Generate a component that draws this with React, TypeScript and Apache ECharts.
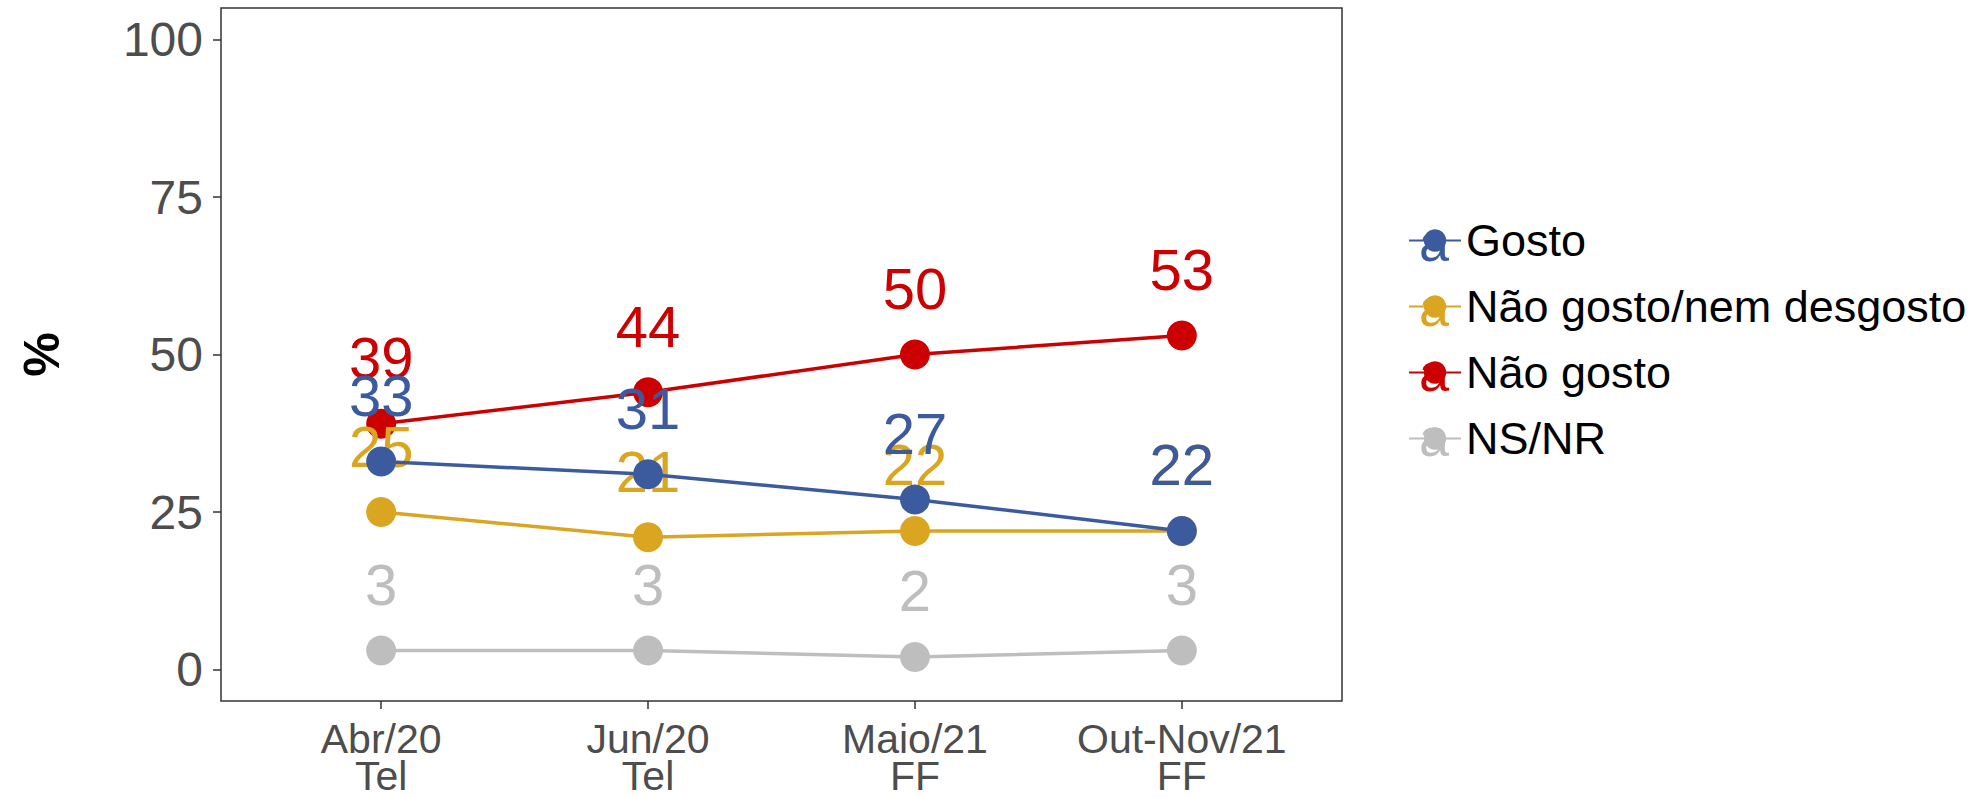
import React, { useEffect, useRef } from "react";
import * as echarts from "echarts";

const categories = ["Abr/20\nTel", "Jun/20\nTel", "Maio/21\nFF", "Out-Nov/21\nFF"];
const seriesNames = ["Gosto", "Não gosto/nem desgosto", "Não gosto", "NS/NR"];
const gosto = [33, 31, 27, 22];
const neutro = [25, 21, 22, 22];
const naoGosto = [39, 44, 50, 53];
const nsnr = [3, 3, 2, 3];
const yTicks = [0, 25, 50, 75, 100];
const colors = ["#3B5B9E", "#DAA520", "#CC0000", "#BEBEBE"];

const FONT = "'Liberation Sans', Arial, sans-serif";

export default function App() {
  const ref = useRef<HTMLDivElement>(null);
  useEffect(() => {
    if (!ref.current) return;
    const chart = echarts.init(ref.current, undefined, { renderer: "svg" });
    const values = [gosto, neutro, naoGosto, nsnr];
    const xIdx = categories.map((_, i) => i);

    const legendLeft = 1408;
    const legendTop = 218;
    const rowH = 65;
    const iconW = 52;
    const textH = 44;

    const series = seriesNames.map((name, si) => ({
      name,
      type: "line",
      data: values[si].map((v, i) => [i, v]),
      symbol: "circle",
      symbolSize: 30,
      lineStyle: { color: colors[si], width: 3.5 },
      itemStyle: { color: colors[si] },
      label: {
        show: true,
        position: "inside",
        offset: [0, -66],
        formatter: (p: any) => String(p.value[1]),
        color: colors[si],
        fontSize: 58,
        fontFamily: FONT,
      },
      z: 6 - si,
    }));

    chart.setOption({
      animation: false,
      backgroundColor: "#ffffff",
      grid: {
        left: 221,
        right: 645,
        top: 8,
        bottom: 97,
        show: true,
        borderColor: "#333333",
        borderWidth: 1.5,
        backgroundColor: "transparent",
      },
      xAxis: {
        type: "value",
        min: -0.6,
        max: 3.6,
        axisLine: { show: false, onZero: false },
        splitLine: { show: false },
        axisTick: {
          show: true,
          customValues: xIdx,
          length: 8,
          lineStyle: { color: "#333333", width: 1.5 },
        },
        axisLabel: {
          customValues: xIdx,
          formatter: (v: number) => categories[Math.round(v)] ?? "",
          color: "#4D4D4D",
          fontSize: 41,
          lineHeight: 37,
          fontFamily: FONT,
          margin: 19,
        },
      },
      yAxis: {
        type: "value",
        min: -5,
        max: 105,
        name: "%",
        nameLocation: "middle",
        nameRotate: 90,
        nameGap: 154,
        nameTextStyle: {
          color: "#000000",
          fontSize: 50,
          fontWeight: "bold",
          fontFamily: FONT,
        },
        axisLine: { show: false, onZero: false },
        splitLine: { show: false },
        axisTick: {
          show: true,
          customValues: yTicks,
          length: 8,
          lineStyle: { color: "#333333", width: 1.5 },
        },
        axisLabel: {
          customValues: yTicks,
          color: "#4D4D4D",
          fontSize: 48,
          fontFamily: FONT,
          margin: 18,
        },
      },
      legend: {
        orient: "vertical",
        left: legendLeft,
        top: legendTop,
        padding: 0,
        itemWidth: iconW,
        itemHeight: 28,
        itemGap: rowH - textH,
        data: seriesNames,
        textStyle: {
          color: "#000000",
          fontSize: 45,
          lineHeight: textH,
          fontFamily: FONT,
          padding: [0, 0, 0, 0],
        },
        z: 5,
      },
      graphic: seriesNames.map((_, si) => ({
        type: "text",
        z: 4,
        x: legendLeft + iconW / 2,
        y: legendTop + textH / 2 + si * rowH + 2,
        style: {
          text: "a",
          fill: colors[si],
          fontSize: 54,
          fontFamily: FONT,
          align: "center",
          verticalAlign: "middle",
        },
      })),
      series,
    });
    return () => chart.dispose();
  }, []);
  return (
    <div
      ref={ref}
      style={{ position: "fixed", left: 0, top: 0, width: 1987, height: 798 }}
    />
  );
}
